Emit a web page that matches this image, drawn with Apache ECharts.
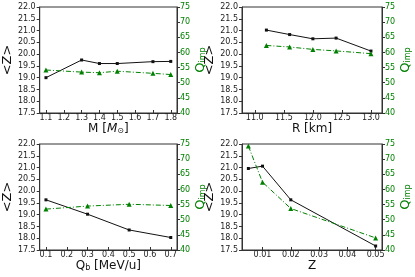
<!DOCTYPE html>
<html><head><meta charset="utf-8">
<script src="https://cdn.jsdelivr.net/npm/echarts@6/dist/echarts.min.js"></script>
<style>html,body{margin:0;padding:0;background:#fff}#c{width:415px;height:277px}</style>
</head><body><div id="c"></div>
<script>
// Panel 1: M [Msun]
const mX = [1.1, 1.3, 1.4, 1.5, 1.7, 1.8];
const mZ = [19.0, 19.75, 19.6, 19.6, 19.68, 19.69];
const mQ = [54.2, 53.5, 53.3, 53.8, 53.1, 52.7];
const mTicks = [1.1, 1.2, 1.3, 1.4, 1.5, 1.6, 1.7, 1.8];
// Panel 2: R [km]
const rX = [11.2, 11.6, 12.0, 12.4, 13.0];
const rZ = [21.02, 20.83, 20.65, 20.68, 20.13];
const rQ = [62.3, 61.8, 61.0, 60.5, 59.6];
const rTicks = [11.0, 11.5, 12.0, 12.5, 13.0];
// Panel 3: Q_b [MeV/u]
const qX = [0.1, 0.3, 0.5, 0.7];
const qZ = [19.63, 19.02, 18.35, 18.03];
const qQ = [53.5, 54.5, 55.1, 54.7];
const qTicks = [0.1, 0.2, 0.3, 0.4, 0.5, 0.6, 0.7];
// Panel 4: Z
const zX = [0.005, 0.01, 0.02, 0.05];
const zZ = [20.96, 21.06, 19.63, 17.67];
const zQ = [74.3, 62.4, 53.7, 44.0];
const zTicks = [0.01, 0.02, 0.03, 0.04, 0.05];
// Axis ticks
const leftTicksMin = 17.5, leftTicksMax = 22.0, leftStep = 0.5;
const rightTicksMin = 40, rightTicksMax = 75, rightStep = 5;

const FONT = 'DejaVu Sans';
const AX = '#333';
const GREEN = '#008000';

const panels = [
  {x: mX, z: mZ, q: mQ, ticks: mTicks, min: 1.065, max: 1.835, dec: 1,
   name: '{n|M [}{i|M}{s|⊙}{n|]}', grid: {left: 37, top: 7, width: 140, height: 106}},
  {x: rX, z: rZ, q: rQ, ticks: rTicks, min: 10.78, max: 13.19, dec: 1,
   name: '{n|R [km]}', grid: {left: 242, top: 7, width: 140, height: 106}},
  {x: qX, z: qZ, q: qQ, ticks: qTicks, min: 0.07, max: 0.73, dec: 1,
   name: '{n|Q}{s|b}{n| [MeV/u]}', grid: {left: 37, top: 144, width: 140, height: 106}},
  {x: zX, z: zZ, q: zQ, ticks: zTicks, min: 0.00275, max: 0.05225, dec: 2,
   name: '{n|Z}', grid: {left: 242, top: 144, width: 140, height: 106}}
];

const nameRich = {
  n: {fontFamily: FONT, fontSize: 12, color: '#111'},
  i: {fontFamily: FONT, fontSize: 12, color: '#111', fontStyle: 'italic'},
  s: {fontFamily: FONT, fontSize: 8, color: '#111', verticalAlign: 'bottom', padding: [5, 0, 0, 0]}
};

const grids = [], xAxes = [], yAxes = [], series = [];
panels.forEach((p, k) => {
  grids.push(Object.assign({show: true, borderColor: AX, borderWidth: 1, backgroundColor: 'transparent'}, p.grid));
  xAxes.push({
    type: 'value', gridIndex: k, min: p.min, max: p.max,
    name: p.name, nameLocation: 'middle', nameGap: 9,
    nameTextStyle: {rich: nameRich},
    splitLine: {show: false},
    axisLine: {show: true, onZero: false, lineStyle: {color: AX}},
    axisTick: {show: true, inside: true, length: 3, lineStyle: {color: AX}, customValues: p.ticks},
    axisLabel: {fontFamily: FONT, fontSize: 8, color: '#222', margin: 1, customValues: p.ticks,
      formatter: v => Number(v).toFixed(p.dec)}
  });
  yAxes.push({
    type: 'value', gridIndex: k, position: 'left', min: leftTicksMin, max: leftTicksMax, interval: leftStep,
    name: '<Z>', nameLocation: 'middle', nameGap: 20, nameRotate: 90,
    nameTextStyle: {fontFamily: FONT, fontSize: 13, color: '#111'},
    splitLine: {show: false},
    axisLine: {show: true, lineStyle: {color: AX}},
    axisTick: {show: true, length: 3, lineStyle: {color: AX}},
    axisLabel: {fontFamily: FONT, fontSize: 8, color: '#222', margin: 4, formatter: v => v.toFixed(1)}
  });
  yAxes.push({
    type: 'value', gridIndex: k, position: 'right', min: rightTicksMin, max: rightTicksMax, interval: rightStep,
    name: '{q|Q}{s|imp}', nameLocation: 'middle', nameGap: 13, nameRotate: 90,
    nameTextStyle: {rich: {
      q: {fontFamily: FONT, fontSize: 13, color: GREEN},
      s: {fontFamily: FONT, fontSize: 8, color: GREEN, verticalAlign: 'bottom', padding: [5, 0, 0, 0]}
    }},
    splitLine: {show: false},
    axisLine: {show: true, lineStyle: {color: AX}},
    axisTick: {show: true, length: 3, lineStyle: {color: AX}},
    axisLabel: {fontFamily: FONT, fontSize: 8, color: GREEN, margin: 3}
  });
  series.push({
    type: 'line', xAxisIndex: k, yAxisIndex: 2 * k, data: p.x.map((v, i) => [v, p.z[i]]),
    lineStyle: {color: '#111', width: 1}, itemStyle: {color: '#111'},
    symbol: 'rect', symbolSize: 3, animation: false
  });
  series.push({
    type: 'line', xAxisIndex: k, yAxisIndex: 2 * k + 1, data: p.x.map((v, i) => [v, p.q[i]]),
    lineStyle: {color: GREEN, width: 1, type: [5, 2, 1, 2]}, itemStyle: {color: GREEN},
    symbol: 'triangle', symbolSize: 5, animation: false
  });
});

const chart = echarts.init(document.getElementById('c'), null, {renderer: 'canvas'});
chart.setOption({animation: false, grid: grids, xAxis: xAxes, yAxis: yAxes, series: series});
</script>
</body></html>
